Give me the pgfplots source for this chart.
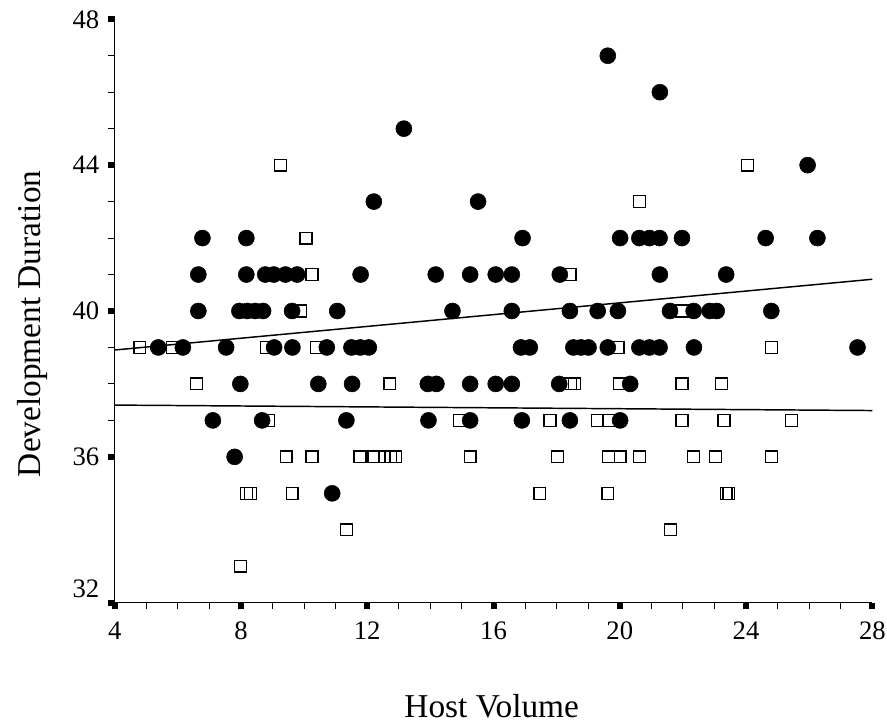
\documentclass[border=0pt]{standalone}
\usepackage{fontspec}
\setmainfont{Liberation Serif}
\usepackage{pgfplots}
\usepackage{pgfplotstable}
\pgfplotsset{compat=1.18}
\pgfplotstableread{
x y
19.62 47
21.27 46
13.16 45
25.95 44
12.21 43
15.51 43
6.78 42
8.17 42
16.92 42
20.01 42
20.62 42
20.94 42
21.26 42
21.97 42
24.62 42
26.26 42
6.65 41
8.17 41
8.77 41
9.04 41
9.41 41
9.78 41
11.79 41
14.17 41
15.26 41
16.07 41
16.58 41
18.10 41
21.27 41
23.37 41
6.65 40
7.95 40
8.20 40
8.45 40
8.70 40
9.62 40
11.05 40
14.70 40
16.58 40
18.42 40
19.30 40
19.94 40
21.59 40
22.34 40
22.85 40
23.07 40
24.80 40
5.38 39
6.16 39
7.53 39
9.05 39
9.63 39
10.72 39
11.50 39
11.78 39
12.05 39
16.87 39
17.15 39
18.53 39
18.77 39
19.01 39
19.62 39
20.62 39
20.94 39
21.26 39
22.35 39
27.53 39
7.98 38
10.45 38
11.52 38
13.92 38
14.19 38
15.26 38
16.07 38
16.58 38
18.08 38
20.33 38
7.11 37
8.67 37
11.34 37
13.94 37
15.26 37
16.90 37
18.42 37
20.01 37
7.80 36
10.89 35
}\circles
\pgfplotstableread{
x y
9.25 44
24.04 44
20.63 43
10.06 42
10.25 41
18.43 41
9.88 40
21.97 40
4.80 39
5.82 39
8.80 39
10.38 39
19.95 39
24.80 39
6.59 38
12.72 38
18.45 38
18.56 38
19.98 38
21.97 38
23.22 38
8.88 37
14.91 37
17.79 37
19.28 37
19.64 37
21.97 37
23.30 37
25.44 37
9.43 36
10.25 36
11.77 36
12.21 36
12.55 36
12.75 36
12.90 36
15.26 36
18.03 36
19.64 36
20.01 36
20.62 36
22.34 36
23.03 36
24.80 36
8.17 35
8.30 35
9.62 35
17.47 35
19.62 35
23.37 35
23.45 35
11.34 34
21.60 34
7.98 33
}\squares
\begin{document}
\begin{tikzpicture}
\path[use as bounding box] (-86.0pt,-91.7pt) rectangle (579.2pt,452.0pt);
\begin{axis}[
  at={(0,0)}, anchor=south west,
  scale only axis, width=568.2pt, height=437.55pt,
  xmin=4, xmax=28, ymin=32, ymax=48,
  axis lines=left, axis line style={-, line width=1pt, black},
  xtick={4,8,12,16,20,24,28}, xticklabels={4,8,12,16,20,24,28},
  ytick={36,40,44,48}, yticklabels={36,40,44,48},
  extra y ticks={32}, extra y tick labels={32},
  extra y tick style={yticklabel style={yshift=10.5pt}},
  minor x tick num=3, minor y tick num=3,
  tick align=outside,
  major tick length=5pt,
  minor tick length=5pt,
  major tick style={line width=4.5pt, black},
  minor tick style={line width=0.8pt, black},
  tick label style={font=\fontsize{20}{24}\selectfont},
  yticklabel style={xshift=-3pt},
  xticklabel style={yshift=-6pt},
  label style={font=\fontsize{25}{30}\selectfont},
  xlabel={Host Volume},
  ylabel={Development Duration},
  xlabel style={at={(axis description cs:0.4976,-0.1766)}, anchor=center, inner sep=0pt},
  ylabel style={at={(axis description cs:-0.108,0.478)}, anchor=center, inner sep=0pt},
]
\addplot[only marks, mark=square, mark size=4.4pt, mark options={line width=1pt, black}] table[x=x,y=y] {\squares};
\addplot[only marks, mark=*, mark size=6pt, mark options={fill=black, draw=black, line width=0.4pt}] table[x=x,y=y] {\circles};
\addplot[black, line width=1.1pt] coordinates {(4,38.93) (28,40.87)};
\addplot[black, line width=1.1pt] coordinates {(4,37.42) (28,37.27)};
\end{axis}
\end{tikzpicture}
\end{document}
